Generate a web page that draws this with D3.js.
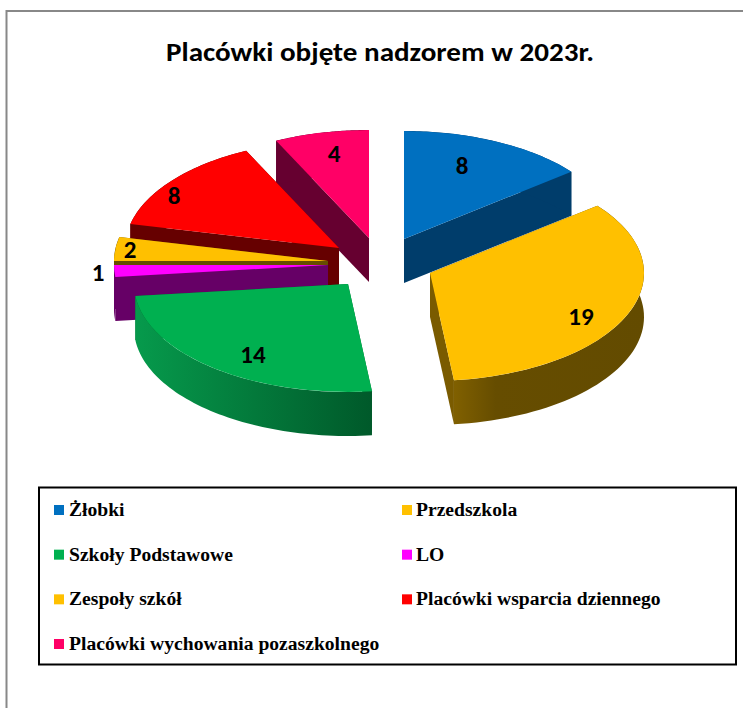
<!DOCTYPE html>
<html><head><meta charset="utf-8">
<script src="https://cdnjs.cloudflare.com/ajax/libs/d3/7.8.5/d3.min.js"></script>
<style>html,body{margin:0;padding:0;background:#fff}svg{display:block}</style>
</head><body><svg id="c" width="743" height="708"></svg>
<script>
const title = "Placówki objęte nadzorem w 2023r.";
const categories = ["Żłobki","Przedszkola","Szkoły Podstawowe","LO","Zespoły szkół","Placówki wsparcia dziennego","Placówki wychowania pozaszkolnego"];
const values = [8,19,14,1,2,8,4];
const topColors = ["#0070C0","#FFC000","#00B050","#FF00FF","#FFC000","#FF0000","#FF0066"];
const wallColors = ["#003D6B","#664D00","#006B30","#660066","#664D00","#660000","#660030"];

// layout
const cx = 386, cy = 262, rx = 214, ry = 108, depth = 44;
const explode = [[18,-23],[44,11],[-38,22],[-58,3],[-58,-1],[-47,-14],[-17,-24]];
const labelOffset = [[58,-74],[151,43],[-95,70],[-230,7],[-198,-12],[-165,-53],[-35,-85]];
const drawOrder = [0,6,5,4,3,2,1];

const svg = d3.select("#c");
const defs = svg.append("defs");
function grad(id, stops){
  const g = defs.append("linearGradient").attr("id",id).attr("x1",0).attr("x2",1).attr("y1",0).attr("y2",0);
  stops.forEach(s=>g.append("stop").attr("offset",s[0]).attr("stop-color",s[1]));
}
grad("gGreen",[[0,"#069A4C"],[1,"#00592A"]]);
grad("gYellow",[[0,"#806000"],[0.22,"#664D00"],[1,"#634B00"]]);
const rimFill = ["#003D6B","url(#gYellow)","url(#gGreen)","#660066","#664D00","#660000","#660030"];

svg.append("path").attr("d","M6.5,708V11H743").attr("fill","none").attr("stroke","#888").attr("stroke-width",2);

svg.append("text").attr("x",380).attr("y",61).attr("text-anchor","middle")
  .attr("font-family","Carlito, Lato, sans-serif").attr("font-weight",700).attr("font-size",27)
  .attr("textLength",428).attr("lengthAdjust","spacingAndGlyphs").attr("fill","#000").text(title);

const pie = d3.pie().sort(null)(values);
const arc = d3.arc().innerRadius(0).outerRadius(rx);
const proj = a => [rx*Math.sin(a), -ry*Math.cos(a)];
const line = d3.line();

drawOrder.forEach(i=>{
  const p = pie[i], [ox,oy] = explode[i];
  const g = svg.append("g").attr("transform",`translate(${cx+ox},${cy+oy})`);
  const edge = a => { const q = proj(a); return line([[0,0],q,[q[0],q[1]+depth],[0,depth]])+"Z"; };
  g.append("path").attr("d",edge(p.startAngle)).attr("fill",wallColors[i]);
  g.append("path").attr("d",edge(p.endAngle)).attr("fill",i===1?"#7A5B00":wallColors[i]);
  const angs = d3.range(0,61).map(k=>p.startAngle+(p.endAngle-p.startAngle)*k/60);
  const up = angs.map(proj), down = angs.map(proj).map(q=>[q[0],q[1]+depth]).reverse();
  g.append("path").attr("d",line(up.concat(down))+"Z").attr("fill",rimFill[i]);
  g.append("path").attr("d",arc({startAngle:p.startAngle,endAngle:p.endAngle}))
    .attr("transform",`scale(1,${ry/rx})`).attr("fill",topColors[i]);
});

pie.forEach((p,i)=>{
  svg.append("text").attr("x",cx+explode[i][0]+labelOffset[i][0]).attr("y",cy+explode[i][1]+labelOffset[i][1]+9)
    .attr("text-anchor","middle").attr("font-family","Carlito, Lato, sans-serif").attr("font-weight",700)
    .attr("font-size",25).attr("fill","#000").text(values[i]);
});

// legend
svg.append("rect").attr("x",39).attr("y",487.5).attr("width",697).attr("height",177).attr("fill","#fff").attr("stroke","#000").attr("stroke-width",2);
const legendX = d3.scalePoint().domain([0,1]).range([54,402]);
const legendY = d3.scalePoint().domain([0,1,2,3]).range([510,644]);
categories.forEach((c,i)=>{
  const col = i%2, row = Math.floor(i/2);
  const g = svg.append("g").attr("transform",`translate(${legendX(col)},${legendY(row)})`);
  g.append("rect").attr("x",0).attr("y",-5).attr("width",10).attr("height",10).attr("fill",topColors[i]);
  g.append("text").attr("x",col?14:15).attr("y",6).attr("font-family","'Liberation Serif', serif").attr("font-weight",700)
    .attr("font-size",19.6).attr("fill","#000").text(c);
});
</script></body></html>
